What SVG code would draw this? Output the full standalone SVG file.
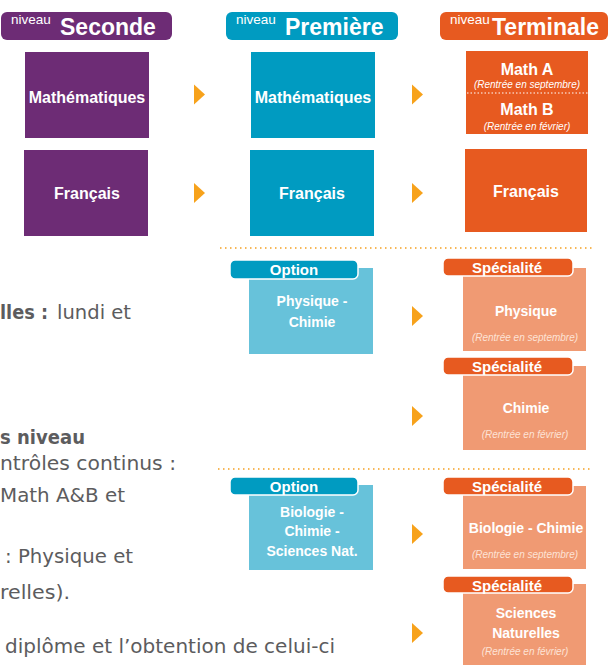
<svg xmlns="http://www.w3.org/2000/svg" width="608" height="665" viewBox="0 0 608 665">
<style>
text{font-family:"Liberation Sans",Arial,sans-serif;fill:#fff}
.b{font-weight:bold}
.hd{font-size:23px;font-weight:bold}
.nv{font-size:13.5px}
.lb{font-size:16px;font-weight:bold;text-anchor:middle}
.lb14{font-size:14px;font-weight:bold;text-anchor:middle}
.tab{font-size:15px;font-weight:bold;text-anchor:middle}
.it{font-size:10px;font-style:italic;text-anchor:middle}
.itl{font-size:10px;font-style:italic;text-anchor:middle;fill:#fde3d6}
.body{font-family:"DejaVu Sans","Liberation Sans",sans-serif;font-size:19px;fill:#5c5c5e}
.purple{fill:#6d2c75}
.teal{fill:#009bc1}
.lteal{fill:#67c2da}
.orange{fill:#e75a20}
.salmon{fill:#f09a73}
.tabo{fill:#e75a20;stroke:#fff;stroke-width:1.5}
.tabt{fill:#009bc1;stroke:#fff;stroke-width:1.5}
.dot{stroke:#f5a020;stroke-width:1.5;stroke-dasharray:1.5 3.5;fill:none}
</style>
<defs>
<path id="arr" d="M0,-10 L0,10 L11,0 Z" fill="#f7a21b"/>
</defs>

<g id="hdr-seconde">
<rect x="1" y="12" width="171" height="28" rx="6" class="purple"/>
<text x="11" y="24" class="nv">niveau</text>
<text x="60" y="35" class="hd">Seconde</text>
</g>
<g id="hdr-premiere">
<rect x="226" y="12" width="172" height="28" rx="6" class="teal"/>
<text x="236" y="24" class="nv">niveau</text>
<text x="285" y="35" class="hd">Première</text>
</g>
<g id="hdr-terminale">
<rect x="440" y="12" width="168" height="28" rx="6" class="orange"/>
<text x="450" y="24" class="nv">niveau</text>
<text x="492" y="35" class="hd">Terminale</text>
</g>

<g id="sec-math">
<rect x="25" y="52" width="124" height="86" class="purple"/>
<text x="87" y="103" class="lb">Mathématiques</text>
</g>
<g id="sec-fr">
<rect x="24" y="150" width="124" height="86" class="purple"/>
<text x="87" y="199" class="lb">Français</text>
</g>
<g id="pre-math">
<rect x="251" y="52" width="124" height="86" class="teal"/>
<text x="313" y="103" class="lb">Mathématiques</text>
</g>
<g id="pre-fr">
<rect x="250" y="150" width="124" height="86" class="teal"/>
<text x="312" y="199" class="lb">Français</text>
</g>
<g id="ter-math">
<rect x="466" y="51" width="122" height="83" class="orange"/>
<text x="527" y="75" class="lb">Math A</text>
<text x="527" y="88" class="it">(Rentrée en septembre)</text>
<line x1="467" y1="93" x2="588" y2="93" stroke="#fff" stroke-width="1" stroke-dasharray="1.5 2"/>
<text x="527" y="115" class="lb">Math B</text>
<text x="527" y="130" class="it">(Rentrée en février)</text>
</g>
<g id="ter-fr">
<rect x="465" y="149" width="122" height="83" class="orange"/>
<text x="526" y="197" class="lb">Français</text>
</g>

<g id="separators">
<line x1="220" y1="248" x2="592" y2="248" class="dot"/>
<line x1="218" y1="469" x2="592" y2="469" class="dot"/>
</g>

<g id="opt-physchim">
<rect x="249" y="268" width="124" height="86" class="lteal"/>
<rect x="230" y="260" width="128" height="19" rx="5" class="tabt"/>
<text x="294" y="275" class="tab">Option</text>
<text x="312" y="306" class="lb14">Physique -</text>
<text x="312" y="327" class="lb14">Chimie</text>
</g>
<g id="opt-biochim">
<rect x="249" y="485" width="124" height="85" class="lteal"/>
<rect x="230" y="477" width="128" height="18" rx="5" class="tabt"/>
<text x="294" y="492" class="tab">Option</text>
<text x="312" y="517" class="lb14">Biologie -</text>
<text x="312" y="536" class="lb14">Chimie -</text>
<text x="312" y="556" class="lb14">Sciences Nat.</text>
</g>

<g id="spe-physique">
<rect x="463" y="268" width="123" height="83" class="salmon"/>
<rect x="443" y="258" width="130" height="18" rx="5" class="tabo"/>
<text x="507" y="273" class="tab">Spécialité</text>
<text x="526" y="316" class="lb14">Physique</text>
<text x="525" y="341" class="itl">(Rentrée en septembre)</text>
</g>
<g id="spe-chimie">
<rect x="463" y="366" width="123" height="84" class="salmon"/>
<rect x="443" y="357" width="130" height="18" rx="5" class="tabo"/>
<text x="507" y="372" class="tab">Spécialité</text>
<text x="526" y="413" class="lb14">Chimie</text>
<text x="525" y="438" class="itl">(Rentrée en février)</text>
</g>
<g id="spe-biochim">
<rect x="463" y="486" width="123" height="83" class="salmon"/>
<rect x="443" y="477" width="130" height="18" rx="5" class="tabo"/>
<text x="507" y="492" class="tab">Spécialité</text>
<text x="526" y="533" class="lb14" font-size="13.5">Biologie - Chimie</text>
<text x="525" y="558" class="itl">(Rentrée en septembre)</text>
</g>
<g id="spe-scnat">
<rect x="463" y="584" width="123" height="81" class="salmon"/>
<rect x="443" y="576" width="130" height="17" rx="5" class="tabo"/>
<text x="507" y="591" class="tab">Spécialité</text>
<text x="526" y="618" class="lb14">Sciences</text>
<text x="526" y="638" class="lb14">Naturelles</text>
<text x="525" y="655" class="itl">(Rentrée en février)</text>
</g>

<g id="connectors">
<use href="#arr" x="194" y="94.5"/>
<use href="#arr" x="194" y="193"/>
<use href="#arr" x="412" y="94.5"/>
<use href="#arr" x="412" y="193"/>
<use href="#arr" x="412" y="316"/>
<use href="#arr" x="412" y="416"/>
<use href="#arr" x="412" y="534"/>
<use href="#arr" x="412" y="633"/>
</g>

<g id="body-text">
<text class="body" y="319"><tspan x="0" class="b" textLength="48" lengthAdjust="spacingAndGlyphs">lles :</tspan><tspan x="57" textLength="74" lengthAdjust="spacingAndGlyphs">lundi et</tspan></text>
<text class="body b" x="0" y="444" textLength="85" lengthAdjust="spacingAndGlyphs">s niveau</text>
<text class="body" x="0" y="470" textLength="176" lengthAdjust="spacingAndGlyphs">ntrôles continus :</text>
<text class="body" x="0" y="502" textLength="125" lengthAdjust="spacingAndGlyphs">Math A&amp;B et</text>
<text class="body" x="5" y="563" textLength="128" lengthAdjust="spacingAndGlyphs">: Physique et</text>
<text class="body" x="0" y="599" textLength="70" lengthAdjust="spacingAndGlyphs">relles).</text>
<text class="body" x="5" y="653" textLength="330" lengthAdjust="spacingAndGlyphs">diplôme et l’obtention de celui-ci</text>
</g>
</svg>
